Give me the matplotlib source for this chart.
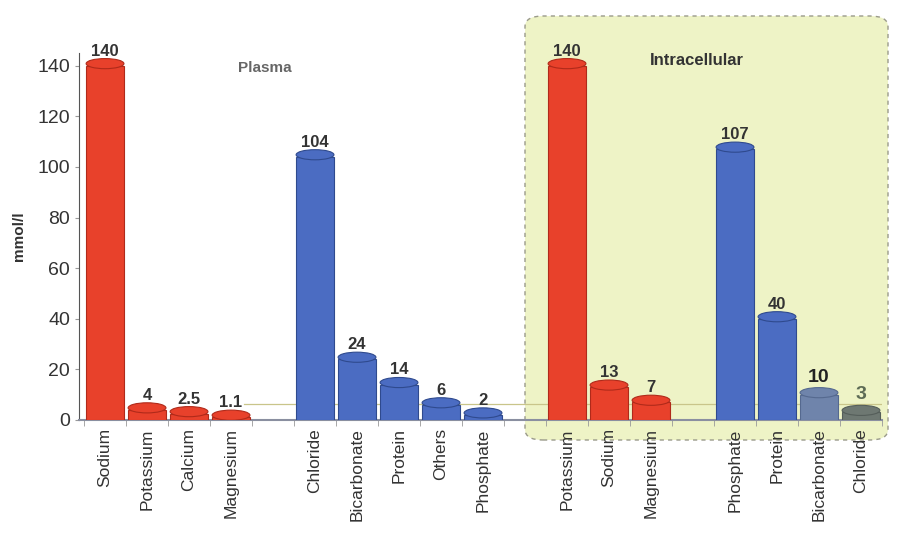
import matplotlib
matplotlib.use("Agg")
import matplotlib.pyplot as plt
from matplotlib.patches import FancyBboxPatch, Ellipse

plt.rcParams['font.family'] = ['Liberation Sans', 'DejaVu Sans']

# plasma (extracellular) and intracellular ion concentrations, mmol/l
categories = ['Sodium', 'Potassium', 'Calcium', 'Magnesium',
              'Chloride', 'Bicarbonate', 'Protein', 'Others', 'Phosphate',
              'Potassium', 'Sodium', 'Magnesium',
              'Phosphate', 'Protein', 'Bicarbonate', 'Chloride']
values = [140, 4, 2.5, 1.1,
          104, 24, 14, 6, 2,
          140, 13, 7,
          107, 40, 10, 3]
labels = ['140', '4', '2.5', '1.1',
          '104', '24', '14', '6', '2',
          '140', '13', '7',
          '107', '40', '10', '3']
slots = [0, 1, 2, 3, 5, 6, 7, 8, 9, 11, 12, 13, 15, 16, 17, 18]

RED = '#e8412b'
BLUE = '#4b6cc2'
colors = [RED] * 4 + [BLUE] * 5 + [RED] * 3 + [BLUE] * 2 + ['#6f84ab', '#6e7872']
edges = ['#b02a1a'] * 4 + ['#2f4a8e'] * 5 + ['#b02a1a'] * 3 + ['#2f4a8e'] * 2 + ['#55698f', '#555e5a']

fig = plt.figure(figsize=(9.03, 5.34), dpi=100)
fig.patch.set_facecolor('white')

# intracellular panel behind the axes
box = FancyBboxPatch((525 / 903, 1 - 440 / 534), (888 - 525) / 903, (440 - 16) / 534,
                     boxstyle='round,pad=0,rounding_size=0.02',
                     transform=fig.transFigure, facecolor='#eef3c6',
                     edgecolor='#9a9a8a', linestyle=(0, (3, 3)), linewidth=1.0, zorder=-1)
fig.patches.append(box)

ax = fig.add_axes([79 / 903, 1 - 420 / 534, (882 - 79) / 903, (420 - 53) / 534])
ax.patch.set_alpha(0)

ax.bar(slots, values, width=0.9, color=colors, edgecolor=edges, linewidth=0.8, zorder=3)
# cylinder caps
for x, v, c, e in zip(slots, values, colors, edges):
    ax.add_patch(Ellipse((x, v + 0.8), 0.9, 4, facecolor=c, edgecolor=e, linewidth=0.8, zorder=4))
    ax.add_patch(Ellipse((x, 0.6), 0.9, 2.4, facecolor=c, edgecolor='none', zorder=2))

for i, (x, v, t) in enumerate(zip(slots, values, labels)):
    if i == 14:
        ax.text(x, v + 3.6, t, ha='center', va='bottom', fontsize=14, fontweight='bold', color='#222222')
    elif i == 15:
        ax.text(x, v + 3.6, t, ha='center', va='bottom', fontsize=14, fontweight='bold', color='#5d6b55')
    else:
        ax.text(x, v + 2.8, t, ha='center', va='bottom', fontsize=12, fontweight='bold', color='#333333')

# faint line across the low bars
ax.plot([3.3, 18.5], [6.5, 6.5], color='#c9c58a', linewidth=0.9, zorder=2)

ax.text(3.8, 139, 'Plasma', ha='center', va='center', fontsize=11, fontweight='bold', color='#666666')
ax.text(14.1, 142, 'Intracellular', ha='center', va='center', fontsize=12, fontweight='bold', color='#333333')

ax.set_xlim(-0.62, 18.5)
ax.set_ylim(0, 145)
ax.set_yticks(range(0, 141, 20))
ax.tick_params(axis='y', labelsize=14, colors='#999999', labelcolor='#333333', length=3)
ax.set_xticks(slots)
ax.set_xticklabels(categories, rotation=90, fontsize=12.5, color='#333333')
ax.tick_params(axis='x', length=0, pad=6)
ax.set_xticks([s + 0.5 for s in range(-1, 19)], minor=True)
ax.tick_params(axis='x', which='minor', length=4, colors='#999999')
ax.set_ylabel('mmol/l', fontsize=11, fontweight='bold', color='#333333', labelpad=8)

for side in ['top', 'right']:
    ax.spines[side].set_visible(False)
ax.spines['left'].set_color('#555555')
ax.spines['bottom'].set_color('#8a8fa0')
ax.spines['bottom'].set_linewidth(1.5)

fig.savefig('out.png', dpi=100)
